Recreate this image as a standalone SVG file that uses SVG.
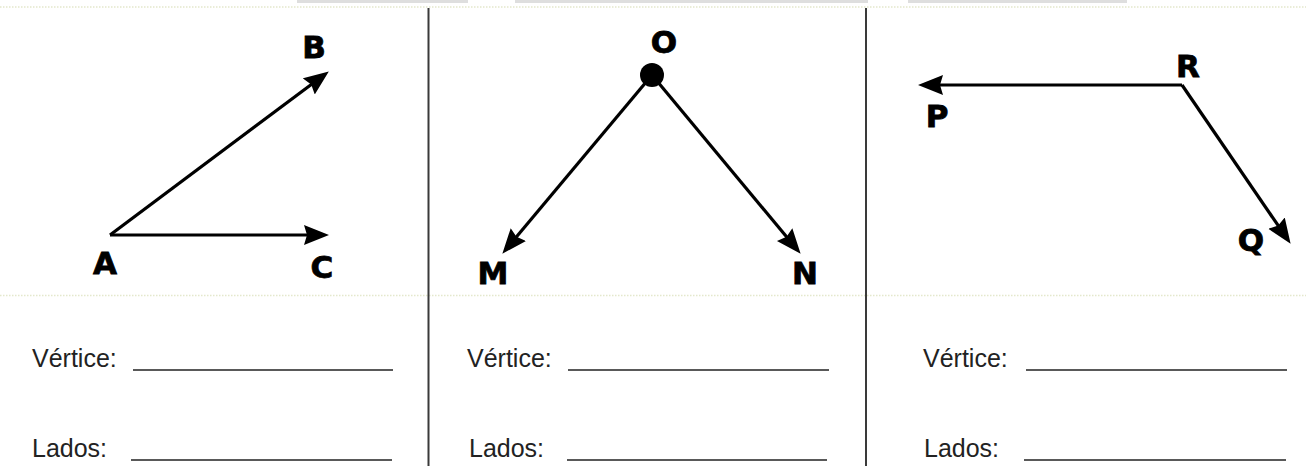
<svg xmlns="http://www.w3.org/2000/svg" width="1306" height="466" viewBox="0 0 1306 466">
<style>
.lbl{font-family:"DejaVu Sans",Verdana,sans-serif;font-weight:bold;font-size:31px;fill:#000;stroke:#000;stroke-width:0.8;text-anchor:middle}
.txt{font-family:"Liberation Sans",Arial,sans-serif;font-size:25px;fill:#222}
.ray{stroke:#000;stroke-width:3.2;fill:none;marker-end:url(#ah)}
.blank{stroke:#222;stroke-width:1.6}
.dot{stroke:#e4e8cc;stroke-width:1.5;stroke-dasharray:1.5 1.5}
.sep{stroke:#3a3a3a;stroke-width:2}
.bar{fill:#dedede}
</style>
<defs>
<marker id="ah" markerUnits="userSpaceOnUse" markerWidth="30" markerHeight="24" refX="14" refY="10" orient="auto" viewBox="0 0 30 24">
<path d="M0,0 L25,10 L0,20 L3,10 z" fill="#000"/>
</marker>
</defs>
<rect width="1306" height="466" fill="#fff"/>
<g id="frame">
<rect class="bar" x="297" y="0" width="171" height="3"/>
<rect class="bar" x="515" y="0" width="353" height="3"/>
<rect class="bar" x="908" y="0" width="219" height="3"/>
<line class="dot" x1="0" y1="7" x2="1306" y2="7"/>
<line class="dot" x1="0" y1="295.5" x2="1306" y2="295.5"/>
<line class="sep" x1="428.5" y1="8" x2="428.5" y2="466"/>
<line class="sep" x1="866" y1="8" x2="866" y2="466"/>
</g>
<g id="connectors">
<line class="ray" x1="110" y1="235" x2="320" y2="78"/>
<line class="ray" x1="110" y1="235" x2="318" y2="235"/>
<line class="ray" x1="652" y1="75" x2="509.4" y2="245.3"/>
<line class="ray" x1="652" y1="75" x2="793.6" y2="245.3"/>
<line class="ray" x1="1182" y1="85" x2="929" y2="85"/>
<line class="ray" x1="1182" y1="85" x2="1284.4" y2="234.7"/>
</g>
<g id="angle-BAC">
<text class="lbl" x="314" y="58">B</text>
<text class="lbl" x="105" y="274">A</text>
<text class="lbl" x="322" y="278">C</text>
</g>
<g id="angle-MON">
<circle cx="652" cy="75" r="12" fill="#000"/>
<text class="lbl" x="664" y="53">O</text>
<text class="lbl" x="493" y="284">M</text>
<text class="lbl" x="805" y="284">N</text>
</g>
<g id="angle-PRQ">
<text class="lbl" x="1188" y="77">R</text>
<text class="lbl" x="937" y="127">P</text>
<text class="lbl" x="1251" y="251">Q</text>
</g>
<g id="answers-1">
<text class="txt" x="32" y="367">Vértice:</text>
<line class="blank" x1="133" y1="370" x2="393" y2="370"/>
<text class="txt" x="32" y="457">Lados:</text>
<line class="blank" x1="131" y1="460" x2="392" y2="460"/>
</g>
<g id="answers-2">
<text class="txt" x="467" y="367">Vértice:</text>
<line class="blank" x1="568" y1="370" x2="829" y2="370"/>
<text class="txt" x="469" y="457">Lados:</text>
<line class="blank" x1="567" y1="460" x2="827" y2="460"/>
</g>
<g id="answers-3">
<text class="txt" x="923" y="367">Vértice:</text>
<line class="blank" x1="1026" y1="370" x2="1287" y2="370"/>
<text class="txt" x="924" y="457">Lados:</text>
<line class="blank" x1="1024" y1="460" x2="1286" y2="460"/>
</g>
</svg>
